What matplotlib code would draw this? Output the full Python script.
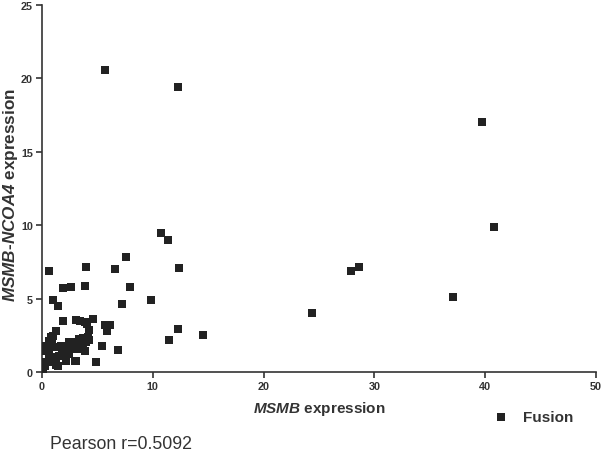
import matplotlib
matplotlib.use("Agg")
import matplotlib.pyplot as plt

# Data
msmb = [5.7, 12.3, 39.7, 40.8, 10.7, 11.4, 7.6, 6.6, 12.4, 28.6, 27.9, 7.9, 7.2, 9.8, 37.1, 24.4,
        5.7, 6.1, 5.85, 12.3, 14.5, 11.5, 5.45, 6.85,
        0.66, 4.0, 1.9, 2.6, 3.9, 0.95, 1.4, 1.9, 3.05, 3.4, 3.9, 4.05, 4.6, 4.25, 1.25,
        1.0, 0.9, 3.35, 3.7, 4.2, 2.5, 3.1, 3.6, 3.9, 2.4, 1.5, 3.0, 4.9, 1.3, 0.27, 0.12,
        0.8, 0.66, 0.36, 0.81, 0.36, 0.66, 1.26, 1.71, 2.01, 2.47, 2.77, 3.97, 4.12, 3.37,
        3.67, 2.47, 2.17, 1.26, 1.42, 2.17, 3.07, 0.66, 0.81, 0.36, 0.06, 1.92, 1.78, 2.98, 3.43]
ncoa4 = [20.6, 19.4, 17.05, 9.9, 9.47, 8.97, 7.85, 7.02, 7.08, 7.13, 6.86, 5.79, 4.62, 4.9, 5.1, 4.0,
         3.2, 3.2, 2.8, 2.93, 2.52, 2.16, 1.78, 1.5,
         6.88, 7.13, 5.72, 5.81, 5.84, 4.93, 4.52, 3.5, 3.52, 3.47, 3.38, 3.27, 3.61, 2.86, 2.79,
         2.43, 2.25, 2.25, 2.3, 2.2, 1.91, 1.61, 1.68, 1.45, 1.23, 1.11, 0.77, 0.66, 0.48, 0.43, 0.2,
         2.38, 2.13, 1.8, 1.8, 1.45, 1.34, 1.68, 1.8, 1.8, 2.02, 2.02, 2.02, 2.36, 1.8,
         1.57, 1.45, 1.23, 1.0, 0.43, 0.77, 0.77, 1.11, 0.66, 0.66, 0.2, 1.68, 1.23, 1.57, 1.68]

x_ticks = [0, 10, 20, 30, 40, 50]
y_ticks = [0, 5, 10, 15, 20, 25]

plt.rcParams['font.family'] = ['Liberation Sans', 'DejaVu Sans']
plt.rcParams['mathtext.fontset'] = 'custom'
plt.rcParams['mathtext.rm'] = 'Liberation Sans'
plt.rcParams['mathtext.it'] = 'Liberation Sans:italic'
plt.rcParams['mathtext.bf'] = 'Liberation Sans:bold'
plt.rcParams['mathtext.bfit'] = 'Liberation Sans:italic:bold'
txt = '#333333'

fig = plt.figure(figsize=(6.02, 4.52), dpi=100)
ax = fig.add_axes([0.0698, 0.1748, 0.920, 0.812])
ax.scatter(msmb, ncoa4, marker='s', s=38, color='#222222', linewidths=0, label='Fusion', zorder=3)

ax.set_xlim(0, 50)
ax.set_ylim(0, 25)
ax.set_xticks(x_ticks)
ax.set_yticks(y_ticks)
for side in ['top', 'right']:
    ax.spines[side].set_visible(False)
for side in ['left', 'bottom']:
    ax.spines[side].set_linewidth(1.2)
    ax.spines[side].set_color('#333333')
ax.tick_params(direction='out', length=4, width=1.2, color='#333333', labelcolor=txt,
               labelsize=7.8, pad=2.5)
for lab in ax.get_xticklabels() + ax.get_yticklabels():
    lab.set_fontweight('bold')

fig.text(0.530, 1 - 409 / 452, r'$\mathbfit{MSMB}$ expression', ha='center', va='center',
         fontsize=11, fontweight='bold', color=txt)
fig.text(0.0175, 1 - 195 / 452, r'$\mathbfit{MSMB}$-$\mathbfit{NCOA4}$ expression', rotation=90,
         ha='center', va='center', fontsize=12.3, fontweight='bold', color=txt)

leg = ax.legend(loc='center left', bbox_to_anchor=(0.82, 1 - 418 / 452), bbox_transform=fig.transFigure,
                frameon=False, handlelength=1.0, handletextpad=0.9, markerscale=0.85,
                borderaxespad=0, borderpad=0, prop={'weight': 'bold', 'size': 11})
for t in leg.get_texts():
    t.set_color(txt)

fig.text(0.083, 1 - 445 / 452, 'Pearson r=0.5092', ha='left', va='center', fontsize=12.8, color=txt)

fig.savefig('out.png', dpi=100)
